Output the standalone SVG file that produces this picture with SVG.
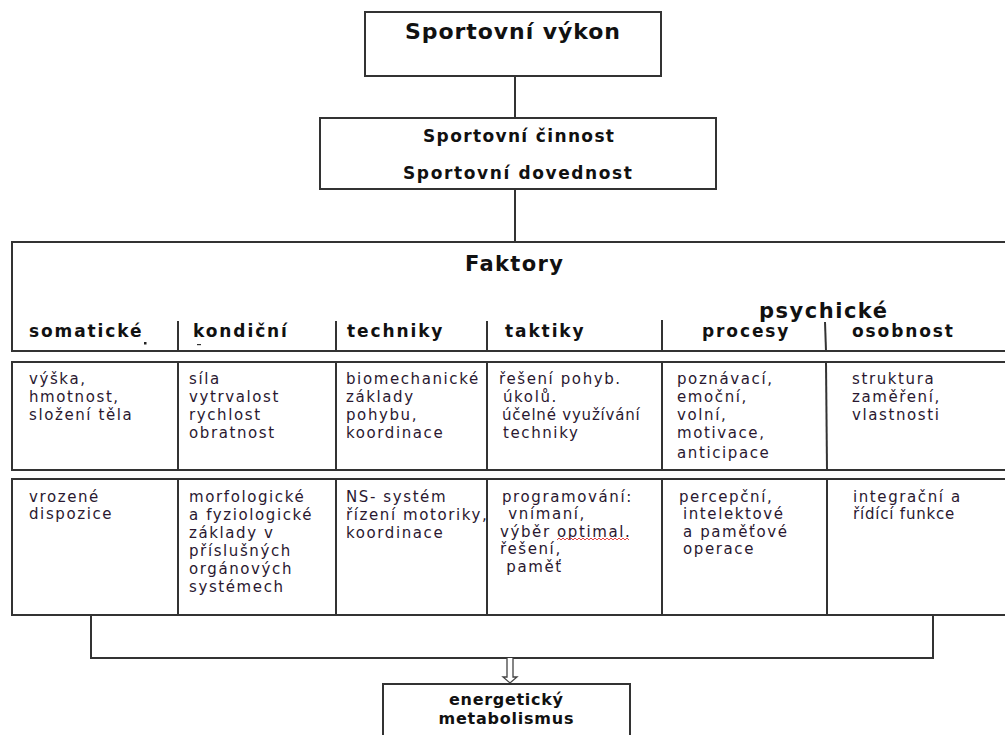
<svg xmlns="http://www.w3.org/2000/svg" width="1005" height="735" viewBox="0 0 1005 735">
<style>
.box{fill:#fff;stroke:#333;stroke-width:2}
.ln{fill:none;stroke:#333;stroke-width:2}
.ttl{font-family:"DejaVu Sans",Verdana,sans-serif;font-weight:bold;fill:#111}
.hd{font-family:"DejaVu Sans",Verdana,sans-serif;font-weight:bold;font-size:17px;letter-spacing:1.9px;fill:#111}
.bd{font-family:"DejaVu Sans",Verdana,sans-serif;font-size:15px;letter-spacing:1.6px;fill:#2a1830}
</style>
<rect width="1005" height="735" fill="#fff"/>
<g id="connectors">
<line class="ln" x1="515" y1="76" x2="515" y2="118"/>
<line class="ln" x1="515" y1="189" x2="515" y2="242"/>
<polyline class="ln" points="91,615 91,658 933,658 933,615"/>
<path d="M507,658 V677 H503 L510,683 L517,677 H513 V658" fill="#fff" stroke="#444" stroke-width="1.3"/>
</g>
<g id="n-vykon">
<rect class="box" x="365" y="12" width="296" height="64"/>
<text class="ttl" x="405" y="39" font-size="22" textLength="215" lengthAdjust="spacing">Sportovní výkon</text>
</g>
<g id="n-cinnost">
<rect class="box" x="320" y="118" width="396" height="71"/>
<text class="ttl" x="423" y="142" font-size="17" textLength="191" lengthAdjust="spacing">Sportovní činnost</text>
<text class="ttl" x="403" y="179" font-size="17" textLength="229" lengthAdjust="spacing">Sportovní dovednost</text>
</g>
<g id="n-faktory">
<path class="ln" d="M1007,242 H12 V351 H1007"/>
<text class="ttl" x="465" y="271" font-size="21" textLength="98" lengthAdjust="spacing">Faktory</text>
<text class="ttl" x="759" y="318" font-size="21" textLength="128" lengthAdjust="spacing">psychické</text>
<line class="ln" x1="178" y1="321" x2="178" y2="351" stroke="#555"/>
<line class="ln" x1="336" y1="321" x2="336" y2="351"/>
<line class="ln" x1="487" y1="321" x2="487" y2="351"/>
<line class="ln" x1="662" y1="320" x2="662" y2="351"/>
<line class="ln" x1="825" y1="322" x2="826" y2="351"/>
<text class="hd" x="29" y="337">somatické</text>
<text class="hd" x="193" y="337">kondiční</text>
<text class="hd" x="347" y="337">techniky</text>
<text class="hd" x="505" y="337">taktiky</text>
<text class="hd" x="702" y="337">procesy</text>
<text class="hd" x="852" y="337">osobnost</text>
<rect x="144" y="342" width="2.5" height="2.5" fill="#222"/>
<rect x="197" y="344" width="4" height="1.2" fill="#333"/>
</g>
<g id="n-row1">
<path class="ln" d="M1007,362 H12 V470 H1007"/>
<line class="ln" x1="178" y1="362" x2="178" y2="470" stroke="#555"/>
<line class="ln" x1="336" y1="362" x2="336" y2="470"/>
<line class="ln" x1="487" y1="362" x2="487" y2="470"/>
<line class="ln" x1="662" y1="362" x2="662" y2="470"/>
<line class="ln" x1="826" y1="362" x2="827" y2="470"/>
<text class="bd"><tspan x="29" y="384">výška,</tspan><tspan x="29" y="402">hmotnost,</tspan><tspan x="29" y="420">složení těla</tspan></text>
<text class="bd"><tspan x="189" y="384">síla</tspan><tspan x="189" y="402">vytrvalost</tspan><tspan x="189" y="420">rychlost</tspan><tspan x="189" y="438">obratnost</tspan></text>
<text class="bd"><tspan x="346" y="384">biomechanické</tspan><tspan x="346" y="402">základy</tspan><tspan x="346" y="420">pohybu,</tspan><tspan x="346" y="438">koordinace</tspan></text>
<text class="bd"><tspan x="499" y="384">řešení pohyb.</tspan><tspan x="503" y="402">úkolů.</tspan><tspan x="502" y="420" letter-spacing="0.8">účelné využívání</tspan><tspan x="503" y="438">techniky</tspan></text>
<text class="bd"><tspan x="677" y="384">poznávací,</tspan><tspan x="677" y="402">emoční,</tspan><tspan x="677" y="420">volní,</tspan><tspan x="677" y="438">motivace,</tspan><tspan x="677" y="458">anticipace</tspan></text>
<text class="bd"><tspan x="852" y="384">struktura</tspan><tspan x="852" y="402">zaměření,</tspan><tspan x="852" y="420">vlastnosti</tspan></text>
</g>
<g id="n-row2">
<path class="ln" d="M1007,479 H12 V615 H1007"/>
<line class="ln" x1="178" y1="479" x2="178" y2="615" stroke="#555"/>
<line class="ln" x1="336" y1="479" x2="336" y2="615"/>
<line class="ln" x1="487" y1="479" x2="487" y2="615"/>
<line class="ln" x1="662" y1="479" x2="662" y2="615"/>
<line class="ln" x1="827" y1="479" x2="827" y2="615"/>
<text class="bd"><tspan x="29" y="502">vrozené</tspan><tspan x="29" y="519">dispozice</tspan></text>
<text class="bd"><tspan x="189" y="502">morfologické</tspan><tspan x="189" y="520">a fyziologické</tspan><tspan x="189" y="538">základy v</tspan><tspan x="189" y="556">příslušných</tspan><tspan x="189" y="574">orgánových</tspan><tspan x="189" y="592">systémech</tspan></text>
<text class="bd"><tspan x="346" y="502">NS- systém</tspan><tspan x="346" y="520">řízení motoriky,</tspan><tspan x="346" y="538">koordinace</tspan></text>
<text class="bd"><tspan x="502" y="502">programování:</tspan><tspan x="502" y="519"> vnímaní,</tspan><tspan x="500" y="537">výběr optimal.</tspan><tspan x="500" y="554">řešení,</tspan><tspan x="500" y="572"> paměť</tspan></text>
<path d="M557,540 l2,-2 l2,2 l2,-2 l2,2 l2,-2 l2,2 l2,-2 l2,2 l2,-2 l2,2 l2,-2 l2,2 l2,-2 l2,2 l2,-2 l2,2 l2,-2 l2,2 l2,-2 l2,2 l2,-2 l2,2 l2,-2 l2,2 l2,-2 l2,2 l2,-2 l2,2 l2,-2 l2,2 l2,-2 l2,2 l2,-2 l2,2 l2,-2 l2,2" fill="none" stroke="#e03030" stroke-width="0.9"/>
<text class="bd"><tspan x="679" y="502">percepční,</tspan><tspan x="683" y="519">intelektové</tspan><tspan x="683" y="537">a paměťové</tspan><tspan x="683" y="554">operace</tspan></text>
<text class="bd"><tspan x="853" y="502">integrační a</tspan><tspan x="853" y="519" letter-spacing="0.8">řídící funkce</tspan></text>
</g>
<g id="n-energie">
<path class="ln" d="M383,740 V684 H630 V740"/>
<text class="ttl" x="506" y="705" font-size="16" text-anchor="middle" textLength="114" lengthAdjust="spacing">energetický</text>
<text class="ttl" x="506" y="724" font-size="16" text-anchor="middle" textLength="135" lengthAdjust="spacing">metabolismus</text>
</g>
</svg>
